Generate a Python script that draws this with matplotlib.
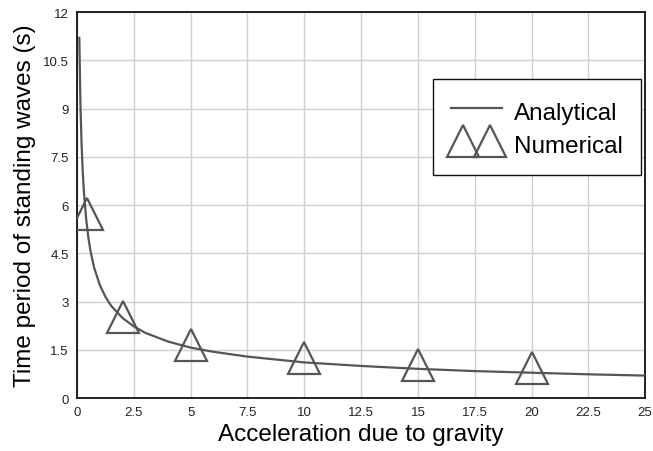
import matplotlib.pyplot as plt
from matplotlib.legend_handler import HandlerLine2D

plt.rcParams["font.family"] = ["Liberation Sans", "DejaVu Sans"]

# analytical curve, values
g_analytical = [0.1, 0.15, 0.2, 0.25, 0.3, 0.4, 0.5, 0.6, 0.75, 1, 1.25, 1.5, 2,
                2.5, 3, 4, 5, 6, 7.5, 10, 12.5, 15, 17.5, 20, 22.5, 25]
t_analytical = [11.2, 9.09, 7.87, 7.04, 6.43, 5.57, 4.98, 4.54, 4.06, 3.52, 3.15,
                2.87, 2.49, 2.23, 2.03, 1.76, 1.57, 1.44, 1.29, 1.11, 1.0, 0.91,
                0.84, 0.79, 0.74, 0.70]

# numerical points
g_numerical = [0.45, 2, 5, 10, 15, 20]
t_numerical = [5.72, 2.51, 1.66, 1.25, 1.04, 0.94]

x_ticks = [0, 2.5, 5, 7.5, 10, 12.5, 15, 17.5, 20, 22.5, 25]
x_labels = ["0", "2.5", "5", "7.5", "10", "12.5", "15", "17.5", "20", "22.5", "25"]
y_ticks = [0, 1.5, 3, 4.5, 6, 7.5, 9, 10.5, 12]
y_labels = ["0", "1.5", "3", "4.5", "6", "7.5", "9", "10.5", "12"]

fig = plt.figure(figsize=(6.53, 4.52), dpi=100)
ax = fig.add_axes([0.118, 0.117, 0.870, 0.854])

ax.plot(g_analytical, t_analytical, color="#555555", lw=1.6, label="Analytical",
        zorder=3)
num_line, = ax.plot(g_numerical, t_numerical, ls="none", marker="^", ms=23,
                    mfc="none", mec="#555555", mew=1.6, label="Numerical",
                    zorder=4)

ax.set_xlim(0, 25)
ax.set_ylim(0, 12)
ax.set_xticks(x_ticks)
ax.set_xticklabels(x_labels)
ax.set_yticks(y_ticks)
ax.set_yticklabels(y_labels)
ax.tick_params(length=0, labelsize=9.5, colors="#222222", pad=6)
ax.grid(True, color="#d0d0d0", lw=1)
ax.set_axisbelow(True)
for s in ax.spines.values():
    s.set_linewidth(1.3)
    s.set_color("#111111")

ax.set_xlabel("Acceleration due to gravity", fontsize=17.5, labelpad=3)
ax.set_ylabel("Time period of standing waves (s)", fontsize=17.5, labelpad=5)

leg = ax.legend(loc="upper right", bbox_to_anchor=(0.993, 0.826), fontsize=17.5,
                borderaxespad=0, fancybox=False, framealpha=1,
                edgecolor="#111111", borderpad=0.75, handlelength=2.1,
                handletextpad=0.5, handleheight=1.25, labelspacing=0.3,
                handler_map={num_line: HandlerLine2D(numpoints=2, marker_pad=0.5)})
leg.get_frame().set_linewidth(1.0)

fig.savefig("out.png", dpi=100)
